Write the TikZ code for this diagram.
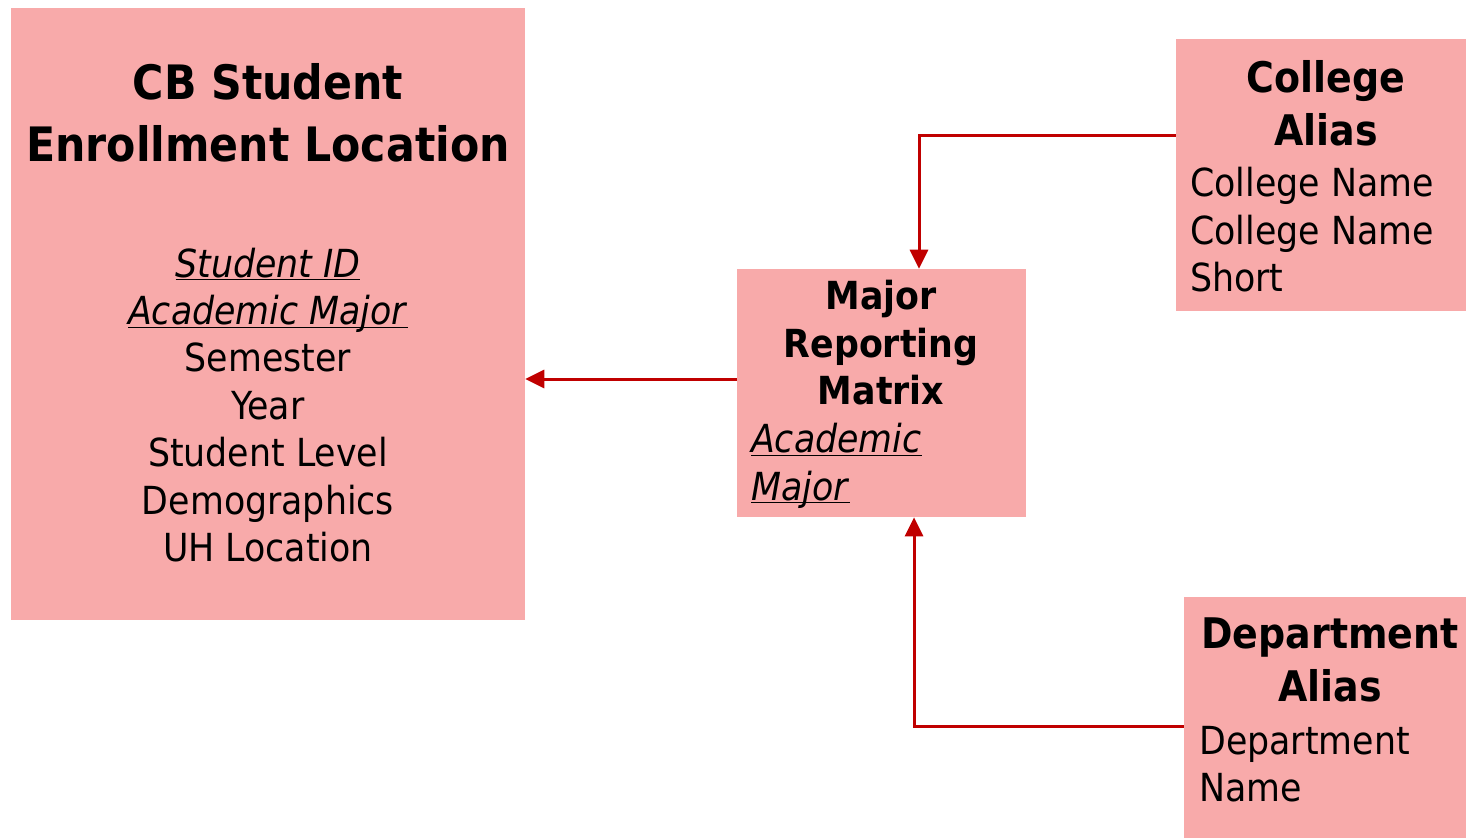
\documentclass[tikz,border=0pt]{standalone}
\usepackage{fontspec}
\setmainfont{DejaVu Sans Condensed}
\usetikzlibrary{arrows.meta}
\definecolor{boxpink}{HTML}{F8AAAA}
\definecolor{linkred}{HTML}{C00000}
\tikzset{entity/.style={fill=boxpink, inner sep=0pt},
  link/.style={-{Triangle[length=0.38cm,width=0.36cm]}, linkred, line width=0.06cm},
  ttl/.style={font=\bfseries\fontsize{27}{35}\selectfont, align=center},
  subttl/.style={font=\bfseries\fontsize{24}{30}\selectfont, align=center},
  fld/.style={font=\fontsize{22}{27}\selectfont}}
\newcommand{\keyfld}[1]{\underline{\smash{\textit{#1}}}\vphantom{\textit{#1}}}
\begin{document}
\begin{tikzpicture}[x=0.02cm,y=-0.02cm]
\useasboundingbox (0,0) rectangle (1466,838);
\node[entity, minimum width=10.28cm, minimum height=12.24cm] (cb) at (268,314) {};
\node[entity, minimum width=5.78cm, minimum height=4.96cm] (mrm) at (881.5,393) {};
\node[entity, minimum width=5.8cm, minimum height=5.44cm] (col) at (1321,175) {};
\node[entity, minimum width=5.64cm, minimum height=4.82cm] (dep) at (1325,717.5) {};
\node[ttl] (cbname) at (268,113) {CB Student\\Enrollment Location};
\node[fld, align=center] (cbfld) at (268,405) {\keyfld{Student ID}\\\keyfld{Academic Major}\\Semester\\Year\\Student Level\\Demographics\\UH Location};
\node[fld, font=\bfseries\fontsize{22}{27}\selectfont, align=center] (mrmname) at (881,343) {Major\\Reporting\\Matrix};
\node[fld, align=left, anchor=west] (mrmfld) at (745,466) {\keyfld{Academic}\\\keyfld{Major}};
\node[subttl] (colname) at (1326,103) {College\\Alias};
\node[fld, align=left, anchor=west] (colfld) at (1184,230) {College Name\\College Name\\Short};
\node[subttl] (depname) at (1330,660) {Department\\Alias};
\node[fld, align=left, anchor=west] (depfld) at (1193,764) {Department\\Name};
\draw[link] (mrm.west) ++(0,-14) coordinate (mw) -- (cb.east |- mw);
\draw[link] (col.west) ++(0,-40) coordinate (cw) -| ([xshift=0.75cm]mrm.north);
\draw[link] (dep.west) ++(0,8.5) coordinate (dw) -| ([xshift=0.65cm]mrm.south);
\end{tikzpicture}
\end{document}
